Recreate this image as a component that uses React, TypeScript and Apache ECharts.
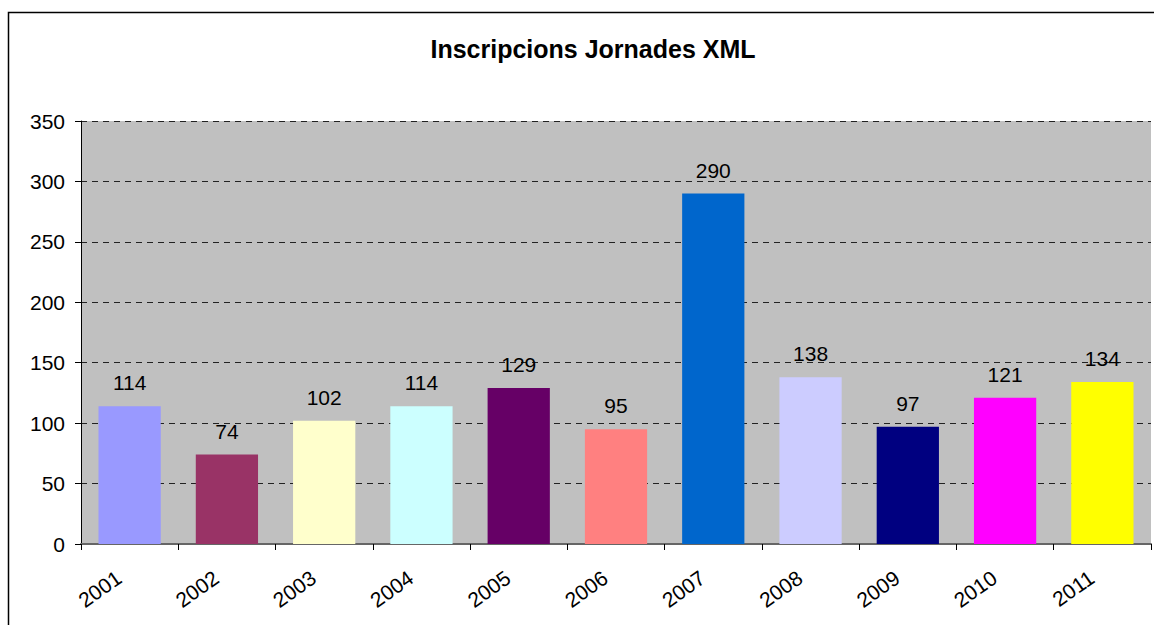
import React, { useEffect, useRef } from "react";
import * as echarts from "echarts";

const years = ["2001", "2002", "2003", "2004", "2005", "2006", "2007", "2008", "2009", "2010", "2011"];
const inscripcions = [114, 74, 102, 114, 129, 95, 290, 138, 97, 121, 134];
const barColors = ["#9999FF", "#993366", "#FFFFCC", "#CCFFFF", "#660066", "#FF8080", "#0066CC", "#CCCCFF", "#000080", "#FF00FF", "#FFFF00"];
const titleText = "Inscripcions Jornades XML";

export default function App() {
  const ref = useRef<HTMLDivElement>(null);
  useEffect(() => {
    if (!ref.current) return;
    const chart = echarts.init(ref.current, null, { renderer: "svg" });
    const font = "'Liberation Sans', Arial, sans-serif";
    chart.setOption({
      animation: false,
      backgroundColor: "#FFFFFF",
      title: {
        text: titleText,
        left: 588,
        textAlign: "center",
        top: 31,
        textStyle: { fontFamily: font, fontSize: 25, fontWeight: "bold", color: "#000" },
      },
      graphic: [
        {
          type: "polyline",
          shape: { points: [[8.5, 625], [8.5, 12.5], [1154, 12.5]] },
          style: { stroke: "#000", lineWidth: 1.5, fill: "none" },
          z: 100,
        },
      ],
      grid: {
        left: 81,
        right: 3,
        top: 121,
        bottom: 81,
        show: true,
        backgroundColor: "#C0C0C0",
        borderWidth: 0,
      },
      xAxis: {
        type: "category",
        data: years,
        axisLine: { show: true, lineStyle: { color: "#666", width: 2 } },
        axisTick: { show: true, length: 6, lineStyle: { color: "#000" } },
        axisLabel: {
          rotate: 35,
          fontFamily: font,
          fontSize: 21,
          color: "#000",
          margin: 24,
          padding: [0, 13, 0, 0],
          interval: 0,
        },
      },
      yAxis: {
        type: "value",
        min: 0,
        max: 350,
        interval: 50,
        axisLine: { show: true, lineStyle: { color: "#000", width: 1 } },
        axisTick: { show: true, length: 6, lineStyle: { color: "#000" } },
        axisLabel: { fontFamily: font, fontSize: 21, color: "#000", margin: 16 },
        splitLine: { show: true, lineStyle: { color: "#222", type: [6, 5], width: 1 } },
      },
      series: [
        {
          type: "bar",
          data: inscripcions.map((v, i) => ({ value: v, itemStyle: { color: barColors[i] } })),
          barCategoryGap: "36%",
          label: {
            show: true,
            position: "top",
            distance: 13,
            fontFamily: font,
            fontSize: 21,
            color: "#000",
          },
        },
      ],
    });
    return () => chart.dispose();
  }, []);
  return <div ref={ref} style={{ position: "absolute", left: 0, top: 0, width: 1154, height: 625 }} />;
}
